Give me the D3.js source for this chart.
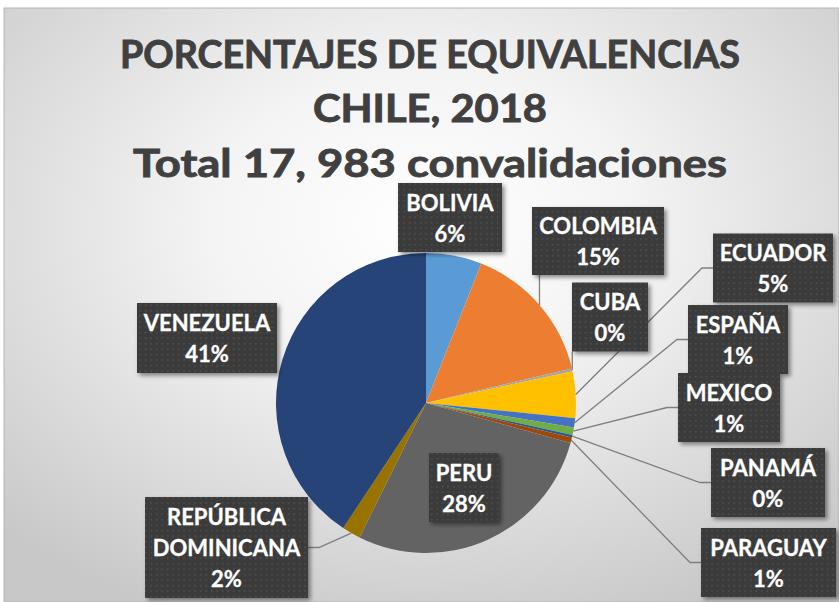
<!DOCTYPE html>
<html>
<head>
<meta charset="utf-8">
<script src="https://cdn.jsdelivr.net/npm/d3@7"></script>
<style>
    html, body { margin: 0; padding: 0; background: #fff; }
    svg { display: block; }
    .title { font-family: Lato, "Open Sans", sans-serif; font-weight: 700; fill: #404040; stroke: #404040; stroke-width: 0.9; text-anchor: middle; }
    .label text { font-family: Lato, "Open Sans", sans-serif; font-weight: 700; fill: #fff; stroke: #fff; stroke-width: 0.3; text-anchor: middle; font-size: 22px; }
    .leader { fill: none; stroke: #7f7f7f; stroke-width: 1.3; }
</style>
</head>
<body>
<svg id="chart" width="839" height="602"></svg>
<script>
// data
const countries = ["BOLIVIA", "COLOMBIA", "CUBA", "ECUADOR", "ESPAÑA", "MEXICO", "PANAMÁ",
                   "PARAGUAY", "PERU", "REPÚBLICA DOMINICANA", "VENEZUELA"];
const convalidaciones = [1080, 2750, 55, 900, 180, 145, 50, 110, 5035, 360, 7318];
const sliceColors = ["#5b9bd5", "#ed7d31", "#a5a5a5", "#ffc000", "#4472c4", "#70ad47",
                     "#255e91", "#9e480e", "#636363", "#997300", "#264478"];
const titleLines = ["PORCENTAJES DE EQUIVALENCIAS", "CHILE, 2018", "Total 17, 983 convalidaciones"];

// label placement (box centre, size, how the leader line attaches)
const labelBoxes = [
    {cx: 450, cy: 217.5, w: 104, h: 69, leader: "none"},
    {cx: 598, cy: 241, w: 132, h: 68, leader: "bottom"},
    {cx: 610, cy: 317, w: 76, h: 69, leader: "bottom"},
    {cx: 773, cy: 268, w: 120, h: 69, leader: "left"},
    {cx: 738, cy: 339.5, w: 100, h: 69, leader: "left"},
    {cx: 729, cy: 407.5, w: 102, h: 69, leader: "left"},
    {cx: 768, cy: 482.5, w: 114, h: 69, leader: "left"},
    {cx: 768.5, cy: 562.5, w: 135, h: 69, leader: "left"},
    {cx: 464, cy: 487.5, w: 70, h: 69, leader: "none"},
    {cx: 226.5, cy: 547.5, w: 163, h: 101, leader: "right"},
    {cx: 207, cy: 338, w: 140, h: 70, leader: "none"}
];

const width = 839, height = 602;
const center = {x: 426, y: 403};
const radius = 150;
const lineGap = 31;

const svg = d3.select("#chart");
const defs = svg.append("defs");

// background gradient
const bg = defs.append("radialGradient").attr("id", "bg")
    .attr("cx", "50%").attr("cy", "36%").attr("r", "72%");
bg.append("stop").attr("offset", "0%").attr("stop-color", "#ffffff");
bg.append("stop").attr("offset", "35%").attr("stop-color", "#f4f4f4");
bg.append("stop").attr("offset", "100%").attr("stop-color", "#c8c8c8");

// dotted texture for the label boxes
const pat = defs.append("pattern").attr("id", "dots")
    .attr("width", 5.5).attr("height", 5.5).attr("patternUnits", "userSpaceOnUse");
pat.append("rect").attr("width", 5.5).attr("height", 5.5).attr("fill", "#3b3b3b");
pat.append("rect").attr("x", 2).attr("y", 2).attr("width", 1.3).attr("height", 1.3).attr("fill", "#5a5a5a");

const shadow = defs.append("filter").attr("id", "shadow")
    .attr("x", "-20%").attr("y", "-20%").attr("width", "140%").attr("height", "140%");
shadow.append("feDropShadow").attr("dx", 2.5).attr("dy", 2.5).attr("stdDeviation", 2)
    .attr("flood-color", "#000").attr("flood-opacity", 0.45);

svg.append("rect").attr("x", 0).attr("y", 0).attr("width", width).attr("height", height).attr("fill", "#fff");
svg.append("rect").attr("x", 4).attr("y", 8).attr("width", width - 4).attr("height", height - 8)
    .attr("fill", "url(#bg)").attr("stroke", "#b5b5b5").attr("stroke-width", 1);

// title
const titleWidths = [620, 234, 594];
const titleBase = [68, 122, 177];
svg.selectAll("text.title").data(titleLines).enter()
    .append("text")
        .attr("class", "title")
        .attr("x", 430)
        .attr("y", (d, i) => titleBase[i])
        .attr("font-size", 39)
        .attr("textLength", (d, i) => titleWidths[i])
        .attr("lengthAdjust", "spacingAndGlyphs")
        .text(d => d);

// pie
const total = d3.sum(convalidaciones);
const data = countries.map((c, i) => ({name: c, value: convalidaciones[i], color: sliceColors[i], box: labelBoxes[i]}));
const pie = d3.pie().sort(null).value(d => d.value);
const arcs = pie(data);
const arc = d3.arc().innerRadius(0).outerRadius(radius);

const chart = svg.append("g").attr("transform", "translate(" + center.x + "," + center.y + ")");
chart.selectAll("path.slice").data(arcs).enter()
    .append("path")
        .attr("class", "slice")
        .attr("d", arc)
        .attr("fill", d => d.data.color);

// leader lines
function edgePoint(d) {
    const a = (d.startAngle + d.endAngle) / 2;
    return [center.x + radius * Math.sin(a), center.y - radius * Math.cos(a)];
}
svg.selectAll("path.leader").data(arcs.filter(d => d.data.box.leader !== "none")).enter()
    .append("path")
        .attr("class", "leader")
        .attr("d", d => {
            const b = d.data.box;
            const p = edgePoint(d);
            if (b.leader === "bottom") {
                return d3.line()([p, [p[0], b.cy + b.h / 2]]);
            }
            if (b.leader === "left") {
                const x = b.cx - b.w / 2;
                return d3.line()([p, [x - 11, b.cy], [x, b.cy]]);
            }
            const x = b.cx + b.w / 2;
            return d3.line()([p, [x + 11, b.cy], [x, b.cy]]);
        });

// labels
const labels = svg.selectAll("g.label").data(arcs).enter()
    .append("g")
        .attr("class", "label");
labels.append("rect")
    .attr("x", d => d.data.box.cx - d.data.box.w / 2)
    .attr("y", d => d.data.box.cy - d.data.box.h / 2)
    .attr("width", d => d.data.box.w)
    .attr("height", d => d.data.box.h)
    .attr("fill", "url(#dots)")
    .attr("filter", "url(#shadow)");
labels.each(function(d) {
    const lines = d.data.name.split(" ");
    lines.push(Math.round(d.data.value / total * 100) + "%");
    const n = lines.length;
    d3.select(this).selectAll("text").data(lines).enter()
        .append("text")
            .attr("x", d.data.box.cx)
            .attr("y", (t, i) => d.data.box.cy + (i - (n - 1) / 2) * lineGap + 8.5)
            .text(t => t);
});
</script>
</body>
</html>
